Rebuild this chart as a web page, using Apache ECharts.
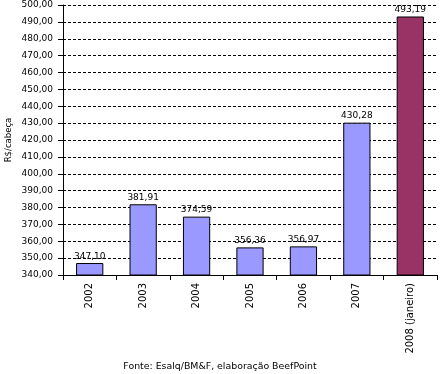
<!DOCTYPE html>
<html><head><meta charset="utf-8">
<script src="https://cdn.jsdelivr.net/npm/echarts@6/dist/echarts.min.js"></script>
<style>html,body{margin:0;padding:0;background:#fff}#c{width:440px;height:374px}</style>
</head><body><div id="c"></div>
<script>
const categories = ['2002','2003','2004','2005','2006','2007','2008 (janeiro)'];
const values = [347.10, 381.91, 374.59, 356.36, 356.97, 430.28, 493.19];
const barColors = ['#9999FF','#9999FF','#9999FF','#9999FF','#9999FF','#9999FF','#993366'];
const yMin = 340, yMax = 500, yStep = 10;
const fmt = v => v.toFixed(2).replace('.', ',');
const chart = echarts.init(document.getElementById('c'));
const font = 'DejaVu Sans, Verdana, sans-serif';
chart.setOption({
  animation: false,
  textStyle: {fontFamily: font},
  grid: {left: 63, right: 3, top: 5, bottom: 99, containLabel: false, outerBoundsMode: 'none'},
  xAxis: {
    type: 'category', data: categories,
    axisLine: {lineStyle: {color: '#000'}},
    axisTick: {show: true, length: 5, lineStyle: {color: '#000'}},
    axisLabel: {rotate: 90, color: '#000', fontSize: 10, fontFamily: font, margin: 8, interval: 0}
  },
  yAxis: {
    type: 'value', min: yMin, max: yMax, interval: yStep,
    name: 'R$/cabeça', nameLocation: 'middle', nameGap: 50, nameMoveOverlap: false,
    nameTextStyle: {color: '#000', fontSize: 8.5, fontFamily: font},
    axisLine: {show: true, lineStyle: {color: '#000'}},
    axisTick: {show: true, length: 5, lineStyle: {color: '#000'}},
    axisLabel: {color: '#000', fontSize: 9, fontFamily: font, margin: 10, formatter: v => fmt(v)},
    splitLine: {show: true, lineStyle: {color: '#000', type: [3, 2], width: 1}}
  },
  series: [{
    type: 'bar',
    data: values.map((v, i) => ({value: v, itemStyle: {color: barColors[i]}})),
    barCategoryGap: '49%',
    itemStyle: {borderColor: '#000', borderWidth: 1},
    label: {show: true, position: 'top', distance: 2, color: '#000', fontSize: 9, fontFamily: font, formatter: p => fmt(p.value)}
  }],
  graphic: [{
    type: 'text', left: 'center', top: 362,
    style: {text: 'Fonte: Esalq/BM&F, elaboração BeefPoint', fill: '#000', font: '9.4px ' + font}
  }]
});
</script></body></html>
